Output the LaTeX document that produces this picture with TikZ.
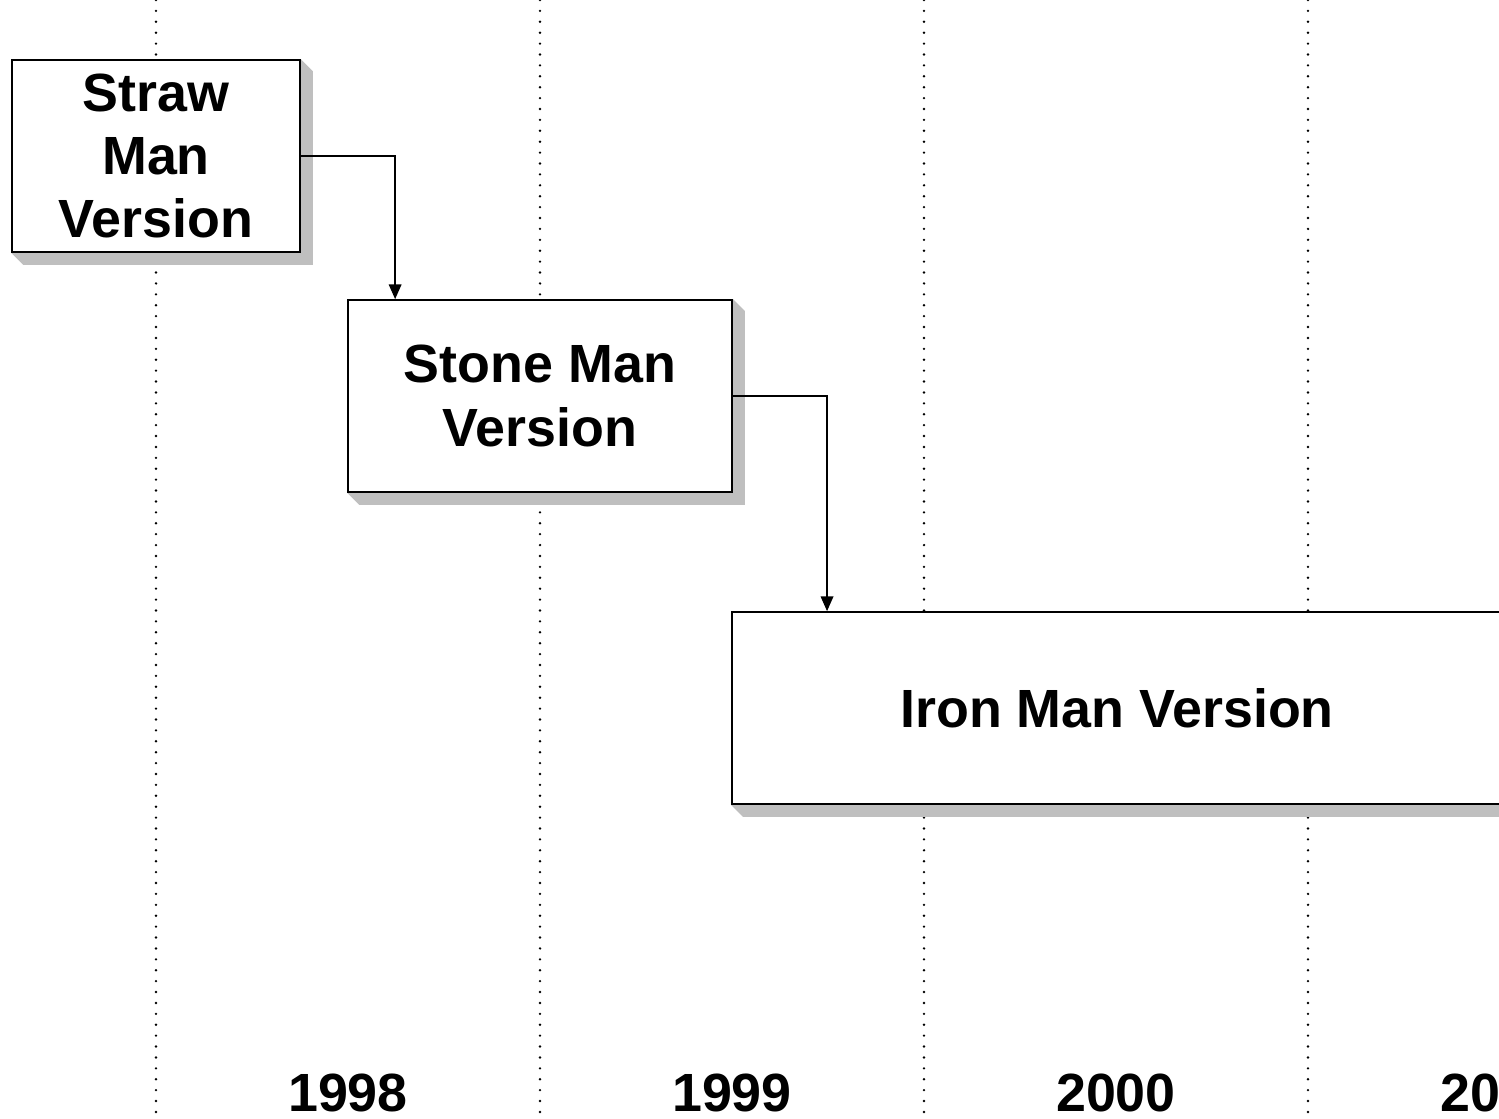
\documentclass[tikz,border=0pt]{standalone}
\usepackage{fontspec}
\setmainfont{Liberation Sans}
\usetikzlibrary{arrows.meta,backgrounds}

\begin{document}
\begin{tikzpicture}[x=0.01cm,y=-0.01cm,>={Triangle[length=4.2pt,width=3.6pt]},
        font=\fontsize{15.3}{18}\selectfont\bfseries]
    \tikzset{phase/.style={draw,fill=white,line width=0.45pt,align=center,inner sep=0pt,minimum height=1.92cm},
        yearline/.style={line width=0.75pt,dash pattern=on 0pt off 3.1pt,line cap=round},
        yearlabel/.style={anchor=base},
        boxshadow/.style={fill=black!25}}
    \def\shadowof#1{\fill[boxshadow] (#1.north east)--++(12,12)--([shift={(12,12)}]#1.south east)
        --([shift={(12,12)}]#1.south west)--(#1.south west)--(#1.south east)--cycle;}
    \clip (0,0) rectangle (1499,1119);
    % phases
    \node[phase,minimum width=2.88cm] (straw) at (156,156) {Straw\\Man\\Version};
    \node[phase,minimum width=3.84cm] (stone) at (540,396) {Stone Man\\Version};
    \node[phase,minimum width=7.70cm] (iron) at (1117,708) {Iron Man Version};
    % years
    \node[yearlabel] (y1998) at (348,1112) {1998};
    \node[yearlabel] (y1999) at (732,1112) {1999};
    \node[yearlabel] (y2000) at (1116,1112) {2000};
    \node[yearlabel] (y2001) at (1500,1112) {2001};
    \begin{scope}[on background layer]
        \foreach \x in {156,540,924,1308}
            \draw[yearline] (\x,0) -- (\x,1119);
        \shadowof{straw}
        \shadowof{stone}
        \shadowof{iron}
    \end{scope}
    \draw[->,line width=0.4pt] (straw.east) -| ([xshift=0.48cm]stone.north west);
    \draw[->,line width=0.4pt] (stone.east) -| ([xshift=0.96cm]iron.north west);
\end{tikzpicture}
\end{document}
